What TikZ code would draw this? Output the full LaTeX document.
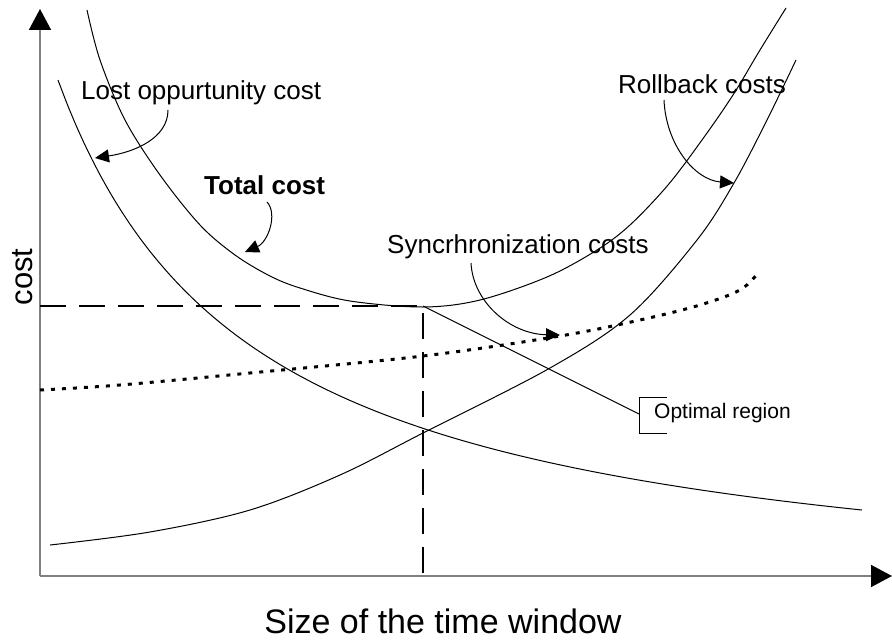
\documentclass[tikz,border=0pt]{standalone}
\usepackage{fontspec}
\setmainfont{Liberation Sans}
\usetikzlibrary{arrows.meta}
\begin{document}
\begin{tikzpicture}[x=1pt,y=-1pt,
  axis/.style={draw=black!50, line width=1.5pt},
  curve/.style={draw=black, line width=1pt},
  pointer/.style={draw=black, line width=1pt, -{Triangle[length=14pt,width=13pt]}},
  guide/.style={draw=black, line width=2.8pt, dash pattern=on 26pt off 13pt},
  sync/.style={draw=black, line width=3pt, dash pattern=on 4pt off 7pt},
  lbl/.style={font=\fontsize{26}{30}\selectfont, inner sep=0pt},
  small/.style={font=\fontsize{21}{25}\selectfont, inner sep=0pt},
  ]
\useasboundingbox (0,0) rectangle (892,642);

% axes
\coordinate (O) at (40,576);
\coordinate (ytop) at (40,9);
\coordinate (xend) at (892,576);
\draw[axis, -{Triangle[length=21pt,width=22pt,color=black]}] (O) -- (ytop);
\draw[axis, -{Triangle[length=21pt,width=22pt,color=black]}] (O) -- (xend);

% optimum point and guide lines
\coordinate (T) at (423,306);
\coordinate (Ty) at (40,306);
\coordinate (Tx) at (423,576);
\draw[guide] (Ty) -- (T) -- (Tx);

% lost opportunity cost
\draw[curve] plot[domain=58:862, samples=90, smooth] (\x, {614.2 - 1040.58/((\x+136.8)/100)});

% total cost
\draw[curve] plot[smooth, tension=0.55] coordinates {(87,10) (100,60) (125,120) (160,175) (200,225) (235,255)
  (270,276) (300,288) (350,301) (423,307) (480,300) (547,277) (597,250) (630,225) (668,185) (702,140)
  (733,95) (760,50) (786,8)};

% rollback costs
\draw[curve] plot[smooth, tension=0.55] coordinates {(50,545) (150,532) (250,510) (340,475) (423,433)
  (550,368) (630,315) (697,240) (734,183) (767,120) (796,60)};

% synchronization costs
\draw[sync] plot[smooth, tension=0.55] coordinates {(40,390) (120,385) (250,373) (423,356) (560,336)
  (640,320) (700,305) (740,290) (758,273)};

% optimal region callout
\coordinate (B) at (639,414);
\draw[curve] (T) -- (B);
\draw[curve] (667,397) -- (639,397) -- (639,433) -- (667,433);
\node[small, anchor=west] (opt) at (654,413) {Optimal region};

% labels
\node[lbl, anchor=west] (lost) at (81,93) {Lost oppurtunity cost};
\node[lbl, anchor=west, font=\fontsize{26}{30}\selectfont\bfseries] (total) at (204,185) {Total cost};
\node[lbl, anchor=east] (roll) at (786,84) {Rollback costs};
\node[lbl, anchor=west] (syn) at (387,247) {Syncrhronization costs};
\node[inner sep=0pt, font=\fontsize{34}{40}\selectfont] (xlab) at (443,621) {Size of the time window};
\node[inner sep=0pt, font=\fontsize{31}{36}\selectfont, rotate=90] (ylab) at (23,277) {cost};

% pointers from labels to curves
\coordinate (l0) at (168,110); \coordinate (l1) at (95,158);
\draw[pointer] (l0) .. controls (168,138) and (135,152) .. (l1);
\coordinate (t0) at (267,202); \coordinate (t1) at (245,252);
\draw[pointer] (t0) .. controls (278,214) and (268,242) .. (t1);
\coordinate (r0) at (664,100); \coordinate (r1) at (734,183);
\draw[pointer] (r0) .. controls (666,145) and (695,180) .. (r1);
\coordinate (s0) at (471,263); \coordinate (s1) at (560,335);
\draw[pointer] (s0) .. controls (473,302) and (510,334) .. (s1);
\end{tikzpicture}
\end{document}
